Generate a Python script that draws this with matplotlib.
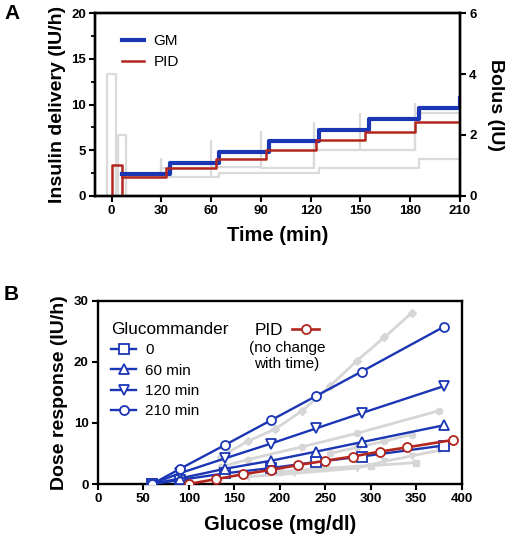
import matplotlib
matplotlib.use("Agg")
import matplotlib.pyplot as plt

plt.rcParams['font.family'] = ['Liberation Sans', 'DejaVu Sans']

# ---- panel A data ----
gm_t = [6, 35, 65, 95, 125, 155, 185, 210]
gm_rate = [2.4, 3.6, 4.8, 6.0, 7.2, 8.4, 9.6, 10.7]
pid_box_t = [0, 0, 6, 6]
pid_box_v = [0, 3.4, 3.4, 0]
pid_t = [6, 33, 63, 93, 123, 153, 183, 210]
pid_rate = [2.1, 3.0, 4.0, 5.0, 6.1, 7.0, 8.1, 8.85]

# gray bolus traces (right axis)
bolus1_t = [-2.5, -2.5, 2.5, 2.5]
bolus1_v = [0, 4.0, 4.0, 0]
bolus2_t = [4, 4, 8.5, 8.5]
bolus2_v = [0, 2.0, 2.0, 0]
basal_lo_t = [8, 65, 125, 185, 210]
basal_lo_v = [0.62, 0.76, 0.9, 1.2, 1.2]
basal_hi_t = [8, 30, 60, 90, 122, 183, 210]
basal_hi_v = [0.62, 0.9, 0.95, 0.9, 1.5, 2.71, 2.71]
spike_t = [30, 60, 90, 122, 150, 183]
spike_lo = [0.62, 0.62, 0.95, 0.9, 1.5, 1.5]
spike_hi = [1.23, 1.83, 2.13, 2.43, 2.73, 3.04]

# ---- panel B data ----
glc = [60, 90, 140, 190, 240, 290, 380]
gm0 = [0, 0.65, 1.75, 2.6, 3.6, 4.5, 6.3]
gm60 = [0, 0.9, 2.5, 3.8, 5.3, 6.85, 9.6]
gm120 = [0, 1.75, 4.2, 6.6, 9.1, 11.6, 16.0]
gm210 = [0, 2.45, 6.4, 10.4, 14.4, 18.4, 25.7]
pid_glc = [100, 130, 160, 190, 220, 250, 280, 310, 340, 390]
pid_dose = [0, 0.8, 1.6, 2.3, 3.1, 3.8, 4.5, 5.3, 6.0, 7.2]

gray_d_x = [135, 165, 195, 225, 255, 285, 315, 345]
gray_d_y = [4.5, 7.0, 9.0, 12.0, 16.0, 20.2, 24.0, 28.0]
gray_c_x = [135, 165, 225, 285, 375]
gray_c_y = [2.8, 4.0, 6.1, 8.3, 12.0]
gray_c2_x = [255, 285, 315, 345]
gray_c2_y = [5.0, 6.0, 7.0, 8.1]
gray_s_x = [200, 250, 300, 350]
gray_s_y = [2.0, 2.6, 3.0, 3.5]
gray_t_x = [165, 216, 285, 315, 345, 375]
gray_t_y = [1.2, 1.75, 2.6, 3.7, 4.6, 5.5]

blue = '#1b36b4'
red = '#b3261e'
gA = '#dadada'
gB = '#d6d6d6'

fig = plt.figure(figsize=(5.12, 5.36), dpi=100)

def style(ax):
    for s in ax.spines.values():
        s.set_linewidth(1.7)
    ax.tick_params(direction='out', length=4.5, width=1.5, labelsize=9.5, pad=2)
    ax.tick_params(which='minor', direction='out', length=3, width=1.3)
    for lab in ax.get_xticklabels() + ax.get_yticklabels():
        lab.set_fontweight('bold')

# ---------------- A ----------------
axA = fig.add_axes([0.1855, 0.635, 0.713, 0.340])
axB2 = axA.twinx()
axA.set_zorder(axB2.get_zorder() + 1)
axA.patch.set_visible(False)

axB2.plot(bolus1_t, bolus1_v, color=gA, lw=1.6)
axB2.plot(bolus2_t, bolus2_v, color=gA, lw=1.6)
axB2.step(basal_lo_t, basal_lo_v, where='post', color=gA, lw=1.6)
axB2.step(basal_hi_t, basal_hi_v, where='post', color=gA, lw=1.6)
axB2.vlines(spike_t, spike_lo, spike_hi, color=gA, lw=1.6)
axB2.set_ylim(0, 6)
axB2.set_yticks([0, 2, 4, 6])
axB2.set_ylabel('Bolus (IU)', fontsize=14, fontweight='bold', rotation=270, labelpad=20)

axA.plot(pid_box_t, pid_box_v, color=red, lw=1.8)
axA.step(gm_t, gm_rate, where='post', color=blue, lw=3.0, label='GM')
axA.step(pid_t, pid_rate, where='post', color=red, lw=1.8, label='PID')
axA.set_xlim(-10, 210)
axA.set_ylim(0, 20)
axA.set_xticks(range(0, 211, 30))
axA.set_yticks([0, 5, 10, 15, 20])
axA.set_yticks([2.5, 7.5, 12.5, 17.5], minor=True)
axA.set_xlabel('Time (min)', fontsize=14.5, fontweight='bold', labelpad=7)
axA.set_ylabel('Insulin delivery (IU/h)', fontsize=14, fontweight='bold', labelpad=4)
axA.legend(loc='upper left', bbox_to_anchor=(0.035, 0.96), frameon=False, fontsize=11,
           handlelength=1.5, handletextpad=0.6, labelspacing=0.45)
style(axA)
style(axB2)

# ---------------- B ----------------
ax = fig.add_axes([0.1908, 0.097, 0.711, 0.342])
gk = dict(color=gB, lw=2, ms=4.5, zorder=1)
ax.plot(gray_d_x, gray_d_y, marker='D', **gk)
ax.plot(gray_c_x, gray_c_y, marker='o', **gk)
ax.plot(gray_c2_x, gray_c2_y, marker='o', **gk)
ax.plot(gray_s_x, gray_s_y, marker='s', **gk)
ax.plot(gray_t_x, gray_t_y, marker='v', **gk)

mk = dict(color=blue, lw=1.7, ms=6.5, mfc='white', mew=1.3, zorder=3)
h0, = ax.plot(glc, gm0, marker='s', label='0', **mk)
h60, = ax.plot(glc, gm60, marker='^', label='60 min', **mk)
h120, = ax.plot(glc, gm120, marker='v', label='120 min', **mk)
h210, = ax.plot(glc, gm210, marker='o', label='210 min', **mk)
hp, = ax.plot(pid_glc, pid_dose, marker='o', color=red, lw=1.9, ms=6.5, mfc='white',
              mew=1.3, zorder=4, label='PID')

ax.set_xlim(0, 400)
ax.set_ylim(0, 30)
ax.set_xticks(range(0, 401, 50))
ax.set_yticks([0, 10, 20, 30])
ax.set_xlabel('Glucose (mg/dl)', fontsize=14.5, fontweight='bold', labelpad=7)
ax.set_ylabel('Dose response (IU/h)', fontsize=14, fontweight='bold', labelpad=4)

leg1 = ax.legend(handles=[h0, h60, h120, h210], title='Glucommander', loc='upper left',
                 bbox_to_anchor=(0.0, 0.96), frameon=False, fontsize=11, title_fontsize=12.3,
                 alignment='left', handlelength=1.6, handletextpad=0.6, labelspacing=0.42)
ax.add_artist(leg1)
ax.legend(handles=[hp], loc='upper left', bbox_to_anchor=(0.39, 0.96), frameon=False,
          fontsize=12.3, markerfirst=False, handlelength=1.6, handletextpad=0.5)
ax.text(0.52, 0.78, '(no change\nwith time)', transform=ax.transAxes, ha='center', va='top',
        fontsize=11, linespacing=1.15)
style(ax)

fig.text(0.008, 0.993, 'A', fontsize=15, fontweight='bold', va='top')
fig.text(0.008, 0.468, 'B', fontsize=15, fontweight='bold', va='top')

fig.savefig('out.png', dpi=100)
